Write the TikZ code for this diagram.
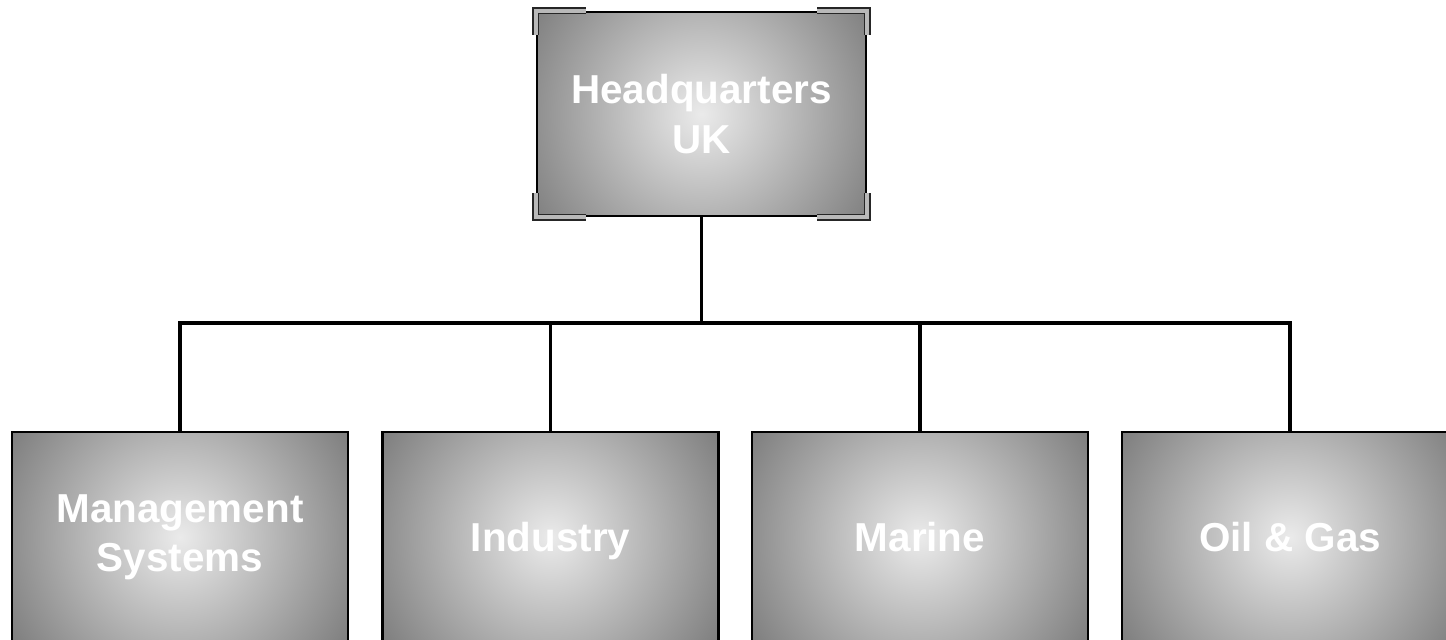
\documentclass[tikz,border=0pt]{standalone}
\usepackage{fontspec}
\setmainfont{Liberation Sans}
\definecolor{glowin}{gray}{0.92}
\definecolor{glowout}{gray}{0.49}
\pgfdeclareradialshading{boxglow}{\pgfpoint{0bp}{0bp}}{color(0bp)=(glowin); color(25bp)=(glowout); color(50bp)=(glowout)}
\begin{document}
\begin{tikzpicture}[
    x=0.02cm, y=-0.02cm,
    unit/.style={rectangle, draw=black, line width=1.3pt, text=white, align=center,
        font=\fontsize{23}{28}\selectfont\bfseries,
        path picture={\shade[shading=boxglow] (path picture bounding box.center) circle (4cm);}},
    head/.style={unit, minimum width=6.58cm, minimum height=4.08cm},
    branch/.style={unit, minimum width=6.72cm, minimum height=4.2cm},
    link/.style={draw=black, line width=2.1pt},
    bracket/.style={draw=black!85, line width=0.8pt, double=gray!55, double distance=2.4pt}
]
    \clip (0,0) rectangle (1446,639);

    % Headquarters
    \node[head] (hq) at (701.5,114) {Headquarters\\UK};
    \foreach \c/\dx/\dy in {north west/1/-1, north east/-1/-1, south west/1/1, south east/-1/1}
        \draw[bracket] ([xshift=\dx*1cm]hq.\c) -- (hq.\c) -- ([yshift=\dy*0.48cm]hq.\c);

    % Divisions
    \node[branch] (ms)  at (180,537)  {Management\\Systems};
    \node[branch, text depth=0pt] (ind) at (550.5,537) {Industry};
    \node[branch] (mar) at (920,537)  {Marine};
    \node[branch] (og)  at (1290,537) {Oil \& Gas};

    % Connectors
    \coordinate (bus) at (701.5,323);
    \draw[link] (hq.south) -- (bus);
    \draw[link] (ms.north) -- (ms.north |- bus) -- (og.north |- bus) -- (og.north);
    \draw[link] (ind.north) -- (ind.north |- bus);
    \draw[link] (mar.north) -- (mar.north |- bus);
\end{tikzpicture}
\end{document}
